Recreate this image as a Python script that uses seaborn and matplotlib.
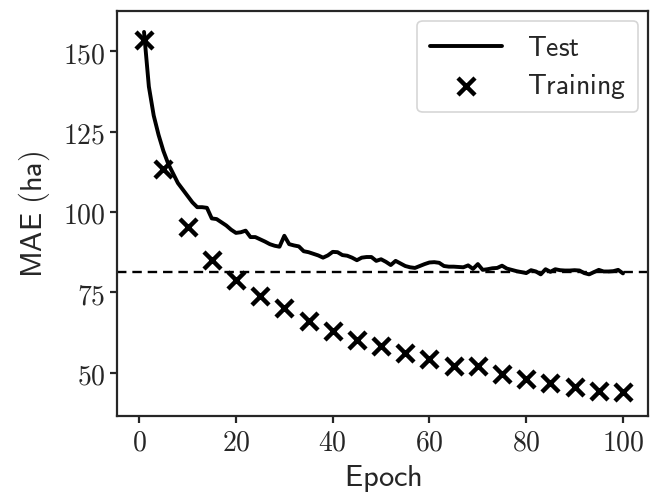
"""MAE vs epoch: test curve, training checkpoints and reference level."""

import matplotlib
matplotlib.use("Agg")
import matplotlib.pyplot as plt
import matplotlib.ticker as mticker
import numpy as np
import pandas as pd
import seaborn as sns

# ---------------------------------------------------------------------------
# Data
# ---------------------------------------------------------------------------
test_epochs = list(range(1, 101))
test_mae = [
    156.0, 139.0, 130.0, 124.0, 119.0, 115.0, 112.0, 109.0, 107.0, 105.0,
    103.0, 101.5, 101.5, 101.3, 98.0, 97.8, 96.8, 95.8, 94.5, 93.5,
    93.7, 94.2, 92.2, 92.2, 91.5, 90.8, 90.0, 89.5, 89.2, 92.6,
    90.0, 89.6, 89.3, 87.8, 87.5, 87.0, 86.5, 85.8, 86.5, 87.6,
    87.5, 86.6, 86.4, 85.8, 85.0, 85.8, 86.0, 86.0, 84.8, 85.3,
    84.5, 83.5, 84.8, 84.0, 83.2, 82.8, 82.6, 83.2, 83.8, 84.3,
    84.4, 84.2, 83.2, 83.0, 83.0, 82.9, 82.8, 83.4, 82.3, 83.8,
    82.0, 82.2, 82.5, 82.6, 83.3, 82.4, 82.0, 81.6, 81.3, 81.0,
    81.9, 81.5, 80.6, 82.2, 81.4, 82.2, 81.9, 81.8, 81.8, 81.9,
    81.8, 81.0, 80.6, 81.3, 82.0, 81.5, 81.5, 81.6, 82.0, 80.9,
]

train_epochs = [1, 5, 10, 15, 20, 25, 30, 35, 40, 45, 50,
                55, 60, 65, 70, 75, 80, 85, 90, 95, 100]
train_mae = [153.4, 113.5, 95.3, 85.0, 78.8, 73.8, 70.0, 66.0, 63.0, 60.3, 58.2,
             56.2, 54.2, 52.1, 52.0, 49.6, 48.2, 46.7, 45.6, 44.3, 44.0]

reference_mae = 81.4

xticks = [0, 20, 40, 60, 80, 100]
yticks = [50, 75, 100, 125, 150]

test_df = pd.DataFrame({"epoch": test_epochs, "mae": test_mae})
train_df = pd.DataFrame({"epoch": train_epochs, "mae": train_mae})

# ---------------------------------------------------------------------------
# Plot
# ---------------------------------------------------------------------------
sns.set_style("ticks")
plt.rcParams["mathtext.fontset"] = "cm"
plt.rcParams["font.family"] = ["DejaVu Sans"]

fig = plt.figure(figsize=(6.56, 5.02), dpi=100)
ax = fig.add_axes([0.179, 0.169, 0.809, 0.807])

sns.lineplot(data=test_df, x="epoch", y="mae", ax=ax, color="black",
             linewidth=2.8, label=r"$\mathsf{Test}$")
sns.scatterplot(data=train_df, x="epoch", y="mae", ax=ax, color="black",
                marker="x", s=150, linewidth=3.2, label=r"$\mathsf{Training}$",
                zorder=3)
ax.axhline(reference_mae, color="black", linestyle=(0, (4, 2.5)), linewidth=1.7)

ax.set_xlim(-4.5, 105.2)
ax.set_ylim(36.5, 162.5)
ax.set_xticks(xticks)
ax.set_yticks(yticks)
fmt = mticker.FuncFormatter(lambda v, pos: rf"${v:g}$")
ax.xaxis.set_major_formatter(fmt)
ax.yaxis.set_major_formatter(fmt)
ax.tick_params(labelsize=20, width=1.6, length=5)
for side in ax.spines.values():
    side.set_linewidth(1.6)

ax.set_xlabel(r"$\mathsf{Epoch}$", fontsize=22, labelpad=4)
ax.set_ylabel(r"$\mathsf{MAE\ (ha)}$", fontsize=22, labelpad=8)

leg = ax.legend(loc="upper right", fontsize=20, handlelength=2.6,
                borderpad=0.45, labelspacing=0.35, handletextpad=0.9,
                borderaxespad=0.35)
leg.get_frame().set_linewidth(1.2)

fig.savefig("out.png", dpi=100)
